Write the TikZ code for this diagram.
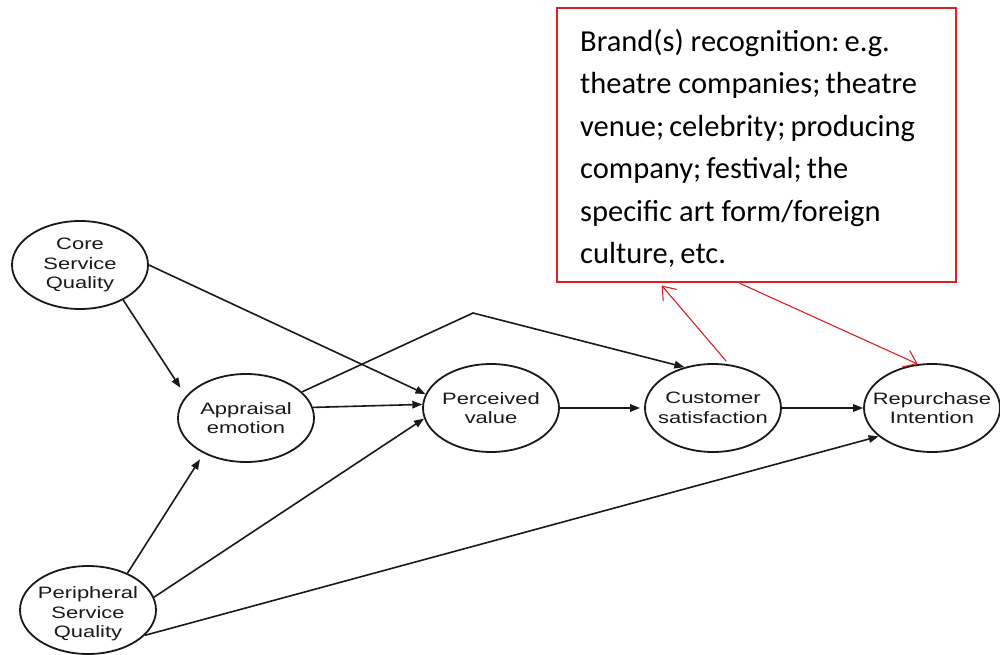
\documentclass[tikz,border=0pt]{standalone}
\usepackage{fontspec}
\setmainfont{Carlito}
\newfontfamily\ellfont[FakeStretch=1.33]{Liberation Sans}
\usetikzlibrary{shapes.geometric,arrows.meta}
\definecolor{boxred}{RGB}{224,30,36}
\definecolor{ink}{RGB}{25,25,25}
\begin{document}
\begin{tikzpicture}[x=1pt,y=-1pt,
  construct/.style={ellipse, draw=ink, line width=1.8pt, minimum width=136pt, minimum height=88pt, inner sep=0pt},
  lbl/.style={font=\ellfont\fontsize{16.5}{19.5}\selectfont, align=center, text=ink, inner sep=0pt},
  link/.style={draw=ink, line width=1.6pt, -{Triangle[length=10pt,width=7.5pt]}},
  redlink/.style={draw=boxred, line width=1.1pt, -{Straight Barb[length=12pt,width=18pt]}},
  brandbox/.style={draw=boxred, line width=2.4pt, minimum width=399pt, minimum height=274pt, inner sep=0pt},
  brandtxt/.style={font=\fontsize{30.5}{42.4}\selectfont, align=left, inner sep=0pt, text=black}
]
\useasboundingbox (0,0) rectangle (1000,655);
\fill[white] (0,0) rectangle (1000,655);

\node[construct, label={[lbl]center:Core\\Service\\Quality}] (core) at (80,265) {};
\node[construct, label={[lbl]center:Appraisal\\emotion}] (app) at (246,418) {};
\node[construct, label={[lbl]center:Perceived\\value}] (per) at (491,408) {};
\node[construct, label={[lbl]center:Customer\\satisfaction}] (cust) at (713,408) {};
\node[construct, label={[lbl]center:Repurchase\\Intention}] (rep) at (932,408) {};
\node[construct, label={[lbl,yshift=-4pt]center:Peripheral\\Service\\Quality}] (peri) at (88,610) {};

\node[brandbox] (brand) at (756.5,145) {};
\node[brandtxt, anchor=north west] (brandtext) at (580,29) {Brand(s) recognition:\,e.g.\\theatre companies;\,theatre\\venue;\,celebrity;\,producing\\company;\,festival;\,the\\specific art form/foreign\\culture,\,etc.};

\coordinate (bend) at (473,313);

\draw[link, shorten >=10pt] (core.-39) -- (app.160);
\draw[link] (core.east) -- (per.168);
\draw[link] (app.9) -- (per.177);
\draw[link] (app.25) -- (bend) -- (cust.125);
\draw[link, shorten >=7pt] (peri.43) -- (app.-140);
\draw[link] (peri.11) -- (per.-171);
\draw[link] (peri.-24) -- (rep.-152);
\draw[link, shorten >=4pt] (per.east) -- (cust.west);
\draw[link] (cust.east) -- (rep.west);

\draw[redlink, shorten <=4pt, shorten >=3pt] (cust.70) -- (brand.-125.9);
\draw[redlink] (brand.-97.5) -- (rep.108);
\end{tikzpicture}
\end{document}
